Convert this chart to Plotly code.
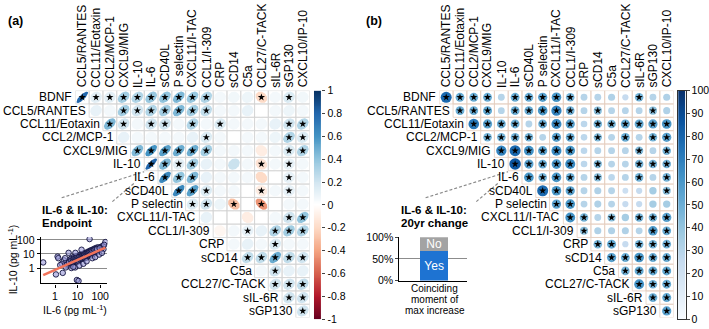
import numpy as np
import plotly.graph_objects as go
from plotly.colors import sample_colorscale

W, H = 709, 329

def fx(p):
    return p / W

def fy(p):
    return 1 - p / H

variables = ["BDNF", "CCL5/RANTES", "CCL11/Eotaxin", "CCL2/MCP-1", "CXCL9/MIG", "IL-10", "IL-6",
             "sCD40L", "P selectin", "CXCL11/I-TAC", "CCL1/I-309", "CRP", "sCD14", "C5a",
             "CCL27/C-TACK", "sIL-6R", "sGP130", "CXCL10/IP-10"]
row_labels = variables[:-1]
col_labels = variables[1:]

# (a) correlations at endpoint; row r holds columns r..16
corr_rows = [
    [0.80, 0.12, 0.12, 0.35, 0.30, 0.38, 0.40, 0.45, 0.38, 0.30, 0.05, 0.06, 0.08, -0.20, 0.05, 0.15, 0.06],
    [0.10, 0.05, 0.35, 0.20, 0.30, 0.35, 0.45, 0.35, 0.25, 0.05, 0.05, 0.10, 0.00, 0.05, 0.08, 0.05],
    [0.45, 0.20, 0.05, 0.20, 0.20, 0.05, 0.30, 0.05, 0.15, 0.05, 0.05, 0.05, 0.10, 0.20, 0.30],
    [0.10, 0.05, 0.05, 0.05, 0.05, 0.10, 0.15, 0.05, 0.00, 0.05, 0.05, 0.08, 0.30, 0.15],
    [0.45, 0.60, 0.55, 0.50, 0.50, 0.35, 0.05, 0.05, 0.05, -0.10, 0.05, 0.15, 0.30],
    [0.80, 0.45, 0.12, 0.35, 0.10, 0.05, 0.22, 0.05, -0.15, 0.05, 0.10, 0.05],
    [0.65, 0.40, 0.45, 0.10, 0.05, 0.05, 0.05, -0.20, 0.00, 0.10, 0.05],
    [0.65, 0.55, 0.15, 0.05, 0.05, 0.00, -0.10, 0.05, 0.10, 0.05],
    [0.15, 0.20, 0.08, -0.30, 0.00, -0.45, 0.00, 0.05, 0.05],
    [0.10, 0.00, 0.00, -0.10, 0.00, 0.05, 0.20, 0.40],
    [-0.05, 0.05, 0.10, 0.10, 0.30, 0.35, 0.30],
    [0.05, 0.10, 0.05, 0.15, 0.05, 0.05],
    [0.25, 0.25, 0.50, 0.25, 0.20],
    [0.05, 0.20, 0.10, 0.10],
    [0.20, 0.20, 0.25],
    [0.20, 0.20],
    [0.20],
]
corr_sig = [
    [0, 1, 2, 3, 4, 5, 6, 7, 8, 9, 13, 15],
    [3, 4, 5, 6, 7, 8, 9],
    [2, 3, 5, 6, 8, 10, 15, 16],
    [9, 15, 16],
    [4, 5, 6, 7, 8, 9, 15, 16],
    [5, 6, 7, 8, 13, 15],
    [6, 7, 8, 15],
    [7, 8, 9, 13, 15],
    [8, 9, 11, 13],
    [15, 16],
    [12, 14, 15, 16],
    [14],
    [12, 13, 14, 15, 16],
    [14],
    [14, 15, 16],
    [15, 16],
    [16],
]

# (b) % coinciding moment of max increase over 20 yr
pct_rows = [
    [78, 50, 50, 50, 30, 50, 50, 55, 60, 47, 30, 30, 32, 25, 47, 30, 32],
    [50, 50, 52, 30, 50, 50, 60, 68, 48, 30, 42, 30, 30, 30, 42, 32],
    [72, 55, 50, 50, 30, 50, 65, 55, 28, 47, 47, 52, 52, 55, 60],
    [47, 47, 48, 47, 30, 55, 50, 28, 44, 30, 50, 30, 47, 55],
    [68, 78, 62, 55, 65, 60, 28, 30, 30, 30, 44, 30, 47],
    [85, 55, 50, 60, 65, 28, 44, 30, 30, 47, 47, 48],
    [60, 47, 60, 50, 30, 42, 28, 30, 47, 30, 47],
    [78, 60, 55, 30, 32, 30, 22, 25, 35, 42],
    [55, 60, 30, 32, 30, 25, 25, 35, 35],
    [62, 47, 30, 42, 35, 47, 47, 55],
    [42, 32, 32, 32, 30, 58, 50],
    [47, 52, 25, 47, 47, 48],
    [55, 50, 60, 50, 50],
    [47, 52, 52, 52],
    [62, 48, 50],
    [50, 52],
    [55],
]
pct_sig = [
    [0, 1, 2, 3, 5, 6, 7, 8, 9, 14],
    [1, 2, 3, 5, 6, 7, 8, 9, 11, 15],
    [2, 3, 4, 5, 7, 8, 9, 11, 12, 13, 14, 15, 16],
    [3, 4, 5, 6, 8, 9, 11, 13, 15, 16],
    [4, 5, 6, 7, 8, 9, 14, 16],
    [5, 6, 7, 8, 9, 11, 14, 15, 16],
    [6, 7, 8, 9, 11, 14, 16],
    [7, 8, 9, 16],
    [8, 9],
    [9, 10, 12, 14, 15, 16],
    [10, 15, 16],
    [11, 12, 14, 15, 16],
    [12, 13, 14, 15, 16],
    [13, 14, 15, 16],
    [14, 15, 16],
    [15, 16],
    [16],
]

# inset (a): IL-6 vs IL-10 at endpoint (pg/mL)
il6 = [3, 3.5, 4, 4, 4.5, 5, 5, 5.5, 6, 6, 6.5, 7, 7, 7.5, 8, 8, 8.5, 9, 9, 10, 10, 10, 11, 11, 12, 12,
       13, 13, 14, 14, 15, 15, 16, 16, 17, 17, 18, 18, 19, 20, 20, 20, 22, 22, 23, 24, 25, 25, 26, 27,
       28, 29, 30, 30, 31, 32, 33, 35, 35, 36, 38, 38, 40, 40, 42, 45, 45, 48, 50, 50, 52, 55, 58, 60,
       62, 65, 70, 70, 75, 80, 85, 90, 100, 110, 120, 130, 140,
       3.2, 4.2, 5.2, 5.8, 6.3, 6.8, 7.3, 7.8, 8.3, 8.8, 9.5, 9.8, 10.5, 10.8, 11.5, 12.5, 13.5, 14.5,
       15.5, 16.5, 17.5, 18.5, 19.5, 21, 21, 23, 24, 26, 27, 29, 31, 33, 34, 37, 39, 43, 46, 53, 57, 68,
       72, 95,
       0.3, 1.1, 2.2, 1.3, 1.4, 2.5, 2.8, 3, 5.3, 7.8, 6.5, 9.3, 11, 34, 170, 12, 18, 25, 45, 60, 90,
       120, 150, 4, 8, 15, 2, 1.7]
il10 = [1.8, 2.5, 1.6, 3.2, 2.2, 2.8, 4.5, 2, 3, 5.5, 2.5, 3.8, 6, 2.8, 4.2, 3, 5.5, 3.5, 7, 4, 5.5, 2.8,
        4.8, 7.5, 3.6, 6, 5, 8.5, 4.2, 6.5, 5.5, 9, 4.5, 7, 6, 10, 5, 8, 6.5, 7.5, 11, 5, 6, 9, 12, 7, 10,
        5.5, 8, 13, 9, 7, 11, 15, 8, 10, 13, 9, 16, 12, 10, 18, 13, 8, 15, 11, 20, 14, 17, 10, 22, 13, 18,
        25, 15, 20, 14, 28, 22, 18, 30, 24, 20, 32, 26, 38, 22,
        2.2, 2.6, 3.4, 2.6, 4, 3.3, 4.6, 3.6, 5, 4, 4.6, 6.2, 3.4, 5, 6, 4.4, 6.2, 5,
        7, 5.4, 7.5, 6, 8.5, 6.8, 9.5, 7.8, 10.5, 9.5, 11, 10, 12, 10, 14, 11.5, 15, 12.5, 16, 15, 20, 18,
        23, 26,
        2.5, 0.35, 0.45, 6.5, 5, 3.5, 5, 1.1, 1.0, 1.1, 1.2, 0.14, 0.12, 115, 70, 1.5, 2, 3, 5, 6, 9,
        12, 45, 12, 12, 20, 2, 1.6]
fit_slope = 0.713
fit_intercept = -0.136

# inset (b): share of pairs with coinciding moment of max increase
bar_labels = ["Yes", "No"]
bar_values = [68, 32]

# colour-bar ticks
cbar_a_ticks = [1, 0.8, 0.6, 0.4, 0.2, 0, -0.2, -0.4, -0.6, -0.8, -1]
cbar_b_ticks = [0, 10, 20, 30, 40, 50, 60, 70, 80, 90, 100]

COL2 = ["#67001F", "#B2182B", "#D6604D", "#F4A582", "#FDDBC7", "#FFFFFF",
        "#D1E5F0", "#92C5DE", "#4393C3", "#2166AC", "#053061"]
COL2_scale = [[i / 10, c] for i, c in enumerate(COL2)]
BLUES = ["#F7FBFF", "#DEEBF7", "#C6DBEF", "#9ECAE1", "#6BAED6", "#4292C6", "#2171B5", "#08519C", "#08306B"]
BLUES_scale = [[i / 8, c] for i, c in enumerate(BLUES)]

FONT = "Liberation Sans, Arial, sans-serif"
n = len(col_labels)

# pixel geometry of the two matrices
A_LEFT, B_LEFT, TOP = 75.8, 441.8, 87.8
CELL = 13.86
GW = CELL * n

fig = go.Figure()

def grid_trace(xa, ya, color):
    xs, ys = [], []
    for r in range(n):
        for c in range(r, n):
            xs += [c - 0.5, c + 0.5, c + 0.5, c - 0.5, c - 0.5, None]
            ys += [r - 0.5, r - 0.5, r + 0.5, r + 0.5, r - 0.5, None]
    return go.Scatter(x=xs, y=ys, mode="lines", line=dict(color=color, width=0.8),
                      xaxis=xa, yaxis=ya, hoverinfo="skip", showlegend=False)

fig.add_trace(grid_trace("x", "y", "#D4D4D4"))
fig.add_trace(grid_trace("x2", "y2", "#E6CFC0"))

# ellipses (a)
t = np.linspace(0, 2 * np.pi, 60)
for r, vals in enumerate(corr_rows):
    for k, v in enumerate(vals):
        c = r + k
        d = np.arccos(np.clip(v, -0.9999, 0.9999))
        ex = 0.85 * np.cos(t + d / 2) / 2
        ey = 0.85 * np.cos(t - d / 2) / 2
        col = sample_colorscale(COL2_scale, [(v + 1) / 2])[0]
        fig.add_trace(go.Scatter(x=c + ex, y=r - ey, mode="lines", fill="toself",
                                 fillcolor=col, line=dict(width=0, color=col),
                                 xaxis="x", yaxis="y", hoverinfo="skip", showlegend=False))

STAR = dict(symbol="star", size=5.5, color="black", line=dict(width=0))

# stars (a)
sx, sy = [], []
for r, cols in enumerate(corr_sig):
    sx += cols
    sy += [r] * len(cols)
fig.add_trace(go.Scatter(x=sx, y=sy, mode="markers", marker=STAR,
                         xaxis="x", yaxis="y", hoverinfo="skip", showlegend=False))

# circles (b)
bx, by, bv = [], [], []
for r, vals in enumerate(pct_rows):
    for k, v in enumerate(vals):
        bx.append(r + k)
        by.append(r)
        bv.append(v)
bv = np.array(bv, dtype=float)
fig.add_trace(go.Scatter(x=bx, y=by, mode="markers",
                         marker=dict(size=0.9 * np.sqrt(bv / 100) * CELL, color=bv, colorscale=BLUES_scale,
                                     cmin=0, cmax=100, line=dict(width=0), opacity=1, showscale=False),
                         xaxis="x2", yaxis="y2", hoverinfo="skip", showlegend=False))
sx, sy = [], []
for r, cols in enumerate(pct_sig):
    sx += cols
    sy += [r] * len(cols)
fig.add_trace(go.Scatter(x=sx, y=sy, mode="markers", marker=STAR,
                         xaxis="x2", yaxis="y2", hoverinfo="skip", showlegend=False))

# colour bars drawn as thin heatmaps
za = np.linspace(-1, 1, 241)
fig.add_trace(go.Heatmap(z=za.reshape(-1, 1), x=[0], y=za, colorscale=COL2_scale, zmin=-1, zmax=1,
                         showscale=False, xaxis="x5", yaxis="y5", hoverinfo="skip"))
zb = np.linspace(0, 100, 241)
fig.add_trace(go.Heatmap(z=zb.reshape(-1, 1), x=[0], y=zb, colorscale=BLUES_scale, zmin=0, zmax=100,
                         showscale=False, xaxis="x6", yaxis="y6", hoverinfo="skip"))

# inset scatter
fig.add_trace(go.Scatter(x=il6, y=il10, mode="markers",
                         marker=dict(size=5.5, color="rgba(150,150,215,0.6)", line=dict(color="#141440", width=0.9)),
                         xaxis="x3", yaxis="y3", hoverinfo="skip", showlegend=False))
lx = np.array([min(il6), max(il6)])
ly = 10 ** (fit_intercept + fit_slope * np.log10(lx))
fig.add_trace(go.Scatter(x=lx, y=ly, mode="lines", line=dict(color="#F2735A", width=2.5),
                         xaxis="x3", yaxis="y3", hoverinfo="skip", showlegend=False))

# inset bar
bar_colors = ["#1E73D2", "#A3A3A3"]
for lab, val, colr in zip(bar_labels, bar_values, bar_colors):
    fig.add_trace(go.Bar(x=[0], y=[val], width=1, marker=dict(color=colr, line=dict(width=0)),
                         text=[lab], textposition="inside", insidetextanchor="middle", constraintext="none",
                         textfont=dict(color="white", size=12, family=FONT),
                         xaxis="x4", yaxis="y4", hoverinfo="skip", showlegend=False))

mat_axis = dict(range=[-0.5, n - 0.5], visible=False, fixedrange=True)
CB_TOP, CB_BOT = 88, 325
layout = dict(
    width=W, height=H, margin=dict(l=0, r=0, t=0, b=0), paper_bgcolor="white", plot_bgcolor="rgba(0,0,0,0)",
    font=dict(family=FONT, size=12, color="black"), barmode="stack", showlegend=False,
    xaxis=dict(domain=[fx(A_LEFT), fx(A_LEFT + GW)], **mat_axis),
    yaxis=dict(domain=[fy(TOP + GW), fy(TOP)], range=[n - 0.5, -0.5], visible=False),
    xaxis2=dict(domain=[fx(B_LEFT), fx(B_LEFT + GW)], **mat_axis),
    yaxis2=dict(domain=[fy(TOP + GW), fy(TOP)], range=[n - 0.5, -0.5], visible=False),
    xaxis3=dict(domain=[fx(41), fx(108)], type="log", range=[np.log10(0.234), np.log10(209)],
                showline=True, linecolor="black", linewidth=1.2, ticks="outside", ticklen=3, tickcolor="black",
                tickvals=[1, 10, 100], ticktext=["1", "10", "100"], showgrid=False, zeroline=False,
                tickfont=dict(size=10.5), anchor="y3"),
    yaxis3=dict(domain=[fy(288), fy(240)], type="log", range=[np.log10(0.079), np.log10(155)],
                showline=True, linecolor="black", linewidth=1.2, ticks="outside", ticklen=3, tickcolor="black",
                tickvals=[1, 10, 100], ticktext=["1", "10", "100"], showgrid=True, gridcolor="#8C8C8C",
                gridwidth=1, zeroline=False, tickfont=dict(size=10.5), anchor="x3"),
    xaxis4=dict(domain=[fx(401.7), fx(470)], range=[-1.25, 1.2], showline=True, linecolor="black",
                linewidth=1.2, showticklabels=False, ticks="", showgrid=False, zeroline=False, anchor="y4"),
    yaxis4=dict(domain=[fy(285), fy(240)], range=[0, 100], showline=True, linecolor="black", linewidth=1.2,
                ticks="outside", ticklen=3, tickvals=[0, 50, 100], ticktext=["0%", "50%", "100%"],
                showgrid=True, gridcolor="#8C8C8C", gridwidth=1, zeroline=False, tickfont=dict(size=10.5),
                anchor="x4"),
    xaxis5=dict(domain=[fx(315.7), fx(323.2)], range=[-0.5, 0.5], visible=False, anchor="y5"),
    yaxis5=dict(domain=[fy(CB_BOT), fy(CB_TOP)], range=[-1, 1], side="right", anchor="x5",
                showline=False, showgrid=False, zeroline=False, ticks="outside", ticklen=3, tickcolor="#444",
                tickvals=cbar_a_ticks, ticktext=[("%g" % v) for v in cbar_a_ticks], tickfont=dict(size=10.5)),
    xaxis6=dict(domain=[fx(682), fx(689.5)], range=[-0.5, 0.5], showticklabels=False, ticks="", showgrid=False,
                zeroline=False, showline=True, mirror=True, linecolor="#333", linewidth=0.8, anchor="y6"),
    yaxis6=dict(domain=[fy(CB_BOT), fy(CB_TOP)], range=[0, 100], side="right", anchor="x6",
                showline=True, mirror=True, linecolor="#333", linewidth=0.8, showgrid=False, zeroline=False,
                ticks="outside", ticklen=3, tickcolor="#444", tickvals=cbar_b_ticks, tickfont=dict(size=10.5)),
)
fig.update_layout(**layout)

ann = []
for xa, ya in (("x", "y"), ("x2", "y2")):
    for r, lab in enumerate(row_labels):
        ann.append(dict(x=r - 0.5, y=r, xref=xa, yref=ya, text=lab, showarrow=False, xanchor="right",
                        yanchor="middle", xshift=-1, font=dict(size=12)))
    for c, lab in enumerate(col_labels):
        ann.append(dict(x=c, y=-0.5, xref=xa, yref=ya, text=lab, showarrow=False, textangle=-90,
                        xanchor="center", yanchor="bottom", yshift=1, font=dict(size=12)))

def pann(x, y, text, size=12, bold=False, xanchor="left", yanchor="middle", angle=0):
    if bold:
        text = "<b>" + text + "</b>"
    return dict(x=fx(x), y=fy(y), xref="paper", yref="paper", text=text, showarrow=False,
                xanchor=xanchor, yanchor=yanchor, textangle=angle, font=dict(size=size))

ann += [
    pann(6, 16, "(a)", 12.5, True),
    pann(366, 16, "(b)", 12.5, True),
    pann(40, 212, "IL-6 &amp; IL-10:", 11.5, True),
    pann(40, 225.5, "Endpoint", 11.5, True),
    pann(401, 212, "IL-6 &amp; IL-10:", 11.5, True),
    pann(401, 225.5, "20yr change", 11.5, True),
    pann(75, 315, "IL-6 (pg mL<sup>-1</sup>)", 10.5, xanchor="center"),
    pann(12, 263, "IL-10 (pg mL<sup>-1</sup>)", 10.5, xanchor="center", angle=-90),
    pann(437, 293, "Coinciding", 10, xanchor="center"),
    pann(437, 304.5, "moment of", 10, xanchor="center"),
    pann(437, 316, "max increase", 10, xanchor="center"),
]
fig.update_layout(annotations=ann)

shapes = []
for x0, y0, x1, y1 in ((62, 199, 145, 172), (113, 203, 136, 183),
                       (428, 199, 511, 172), (479, 203, 502, 183)):
    shapes.append(dict(type="line", xref="paper", yref="paper", x0=fx(x0), y0=fy(y0), x1=fx(x1), y1=fy(y1),
                       line=dict(color="#8A8A8A", width=1.2, dash="3px,2px")))
fig.update_layout(shapes=shapes)

fig.write_html("out.html", config={"displayModeBar": False},
               post_script="document.body.style.margin='0';")
